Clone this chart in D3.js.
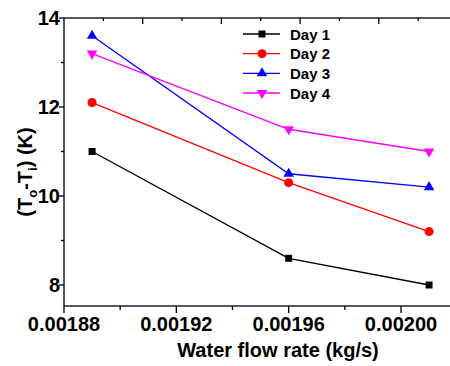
<!DOCTYPE html>
<html>
<head>
<meta charset="utf-8">
<script src="https://cdn.jsdelivr.net/npm/d3@7"></script>
<style>
  body { margin: 0; background: #fff; }
  svg { display: block; font-family: "Liberation Sans", Arial, sans-serif; font-weight: bold; }
</style>
</head>
<body>
<div id="chart"></div>
<script>
// the data
const flowRate = [0.00189, 0.00196, 0.00201];
const day1 = [11.0, 8.6, 8.0];
const day2 = [12.1, 10.3, 9.2];
const day3 = [13.6, 10.5, 10.2];
const day4 = [13.2, 11.5, 11.0];
const seriesNames = ["Day 1", "Day 2", "Day 3", "Day 4"];
const xTicks = [0.00188, 0.00192, 0.00196, 0.00200];
const yTicks = [8, 10, 12, 14];

const width = 450;
const height = 366;
const plotLeft = 64, plotTop = 18, plotBottom = 306, plotRight = 460;

const svg = d3.select('#chart')
  .append('svg')
    .attr('width', width)
    .attr('height', height);

// scales
const x = d3.scaleLinear().domain([0.00188, 0.00200]).range([plotLeft, 401]);
const y = d3.scaleLinear().domain([8, 14]).range([285, plotTop]);
// the top axis of the original has its own tick spacing
const xTop = d3.scaleLinear().domain([0, 10]).range([plotLeft, plotLeft + 393.5]);

const series = [
  { name: seriesNames[0], values: day1, color: '#000000', symbol: d3.symbolSquare, size: 49, rotate: 0 },
  { name: seriesNames[1], values: day2, color: '#ff0000', symbol: d3.symbolCircle, size: 64, rotate: 0 },
  { name: seriesNames[2], values: day3, color: '#0000ff', symbol: d3.symbolTriangle, size: 48, rotate: 0 },
  { name: seriesNames[3], values: day4, color: '#ff00ff', symbol: d3.symbolTriangle, size: 48, rotate: 180 }
];

// frame
svg.append('rect')
  .attr('x', plotLeft).attr('y', plotTop)
  .attr('width', plotRight - plotLeft).attr('height', plotBottom - plotTop)
  .attr('fill', 'none').attr('stroke', '#000').attr('stroke-width', 1.3);

// bottom ticks, major + minor
const xMinor = [0.00190, 0.00194, 0.00198];
svg.selectAll('.xmajor')
  .data(xTicks)
  .join('line')
    .attr('class', 'xmajor')
    .attr('x1', d => x(d)).attr('x2', d => x(d))
    .attr('y1', plotBottom).attr('y2', plotBottom + 7)
    .attr('stroke', '#000').attr('stroke-width', 1.3);
svg.selectAll('.xminor')
  .data(xMinor)
  .join('line')
    .attr('class', 'xminor')
    .attr('x1', d => x(d)).attr('x2', d => x(d))
    .attr('y1', plotBottom).attr('y2', plotBottom + 4)
    .attr('stroke', '#000').attr('stroke-width', 1.3);
svg.selectAll('.xlabel')
  .data(xTicks)
  .join('text')
    .attr('class', 'xlabel')
    .attr('x', d => x(d))
    .attr('y', 331)
    .attr('text-anchor', 'middle')
    .attr('font-size', 20)
    .text(d => d3.format('.5f')(d));

// top ticks (inside)
svg.selectAll('.ttick')
  .data(d3.range(1, 10))
  .join('line')
    .attr('class', 'ttick')
    .attr('x1', d => xTop(d)).attr('x2', d => xTop(d))
    .attr('y1', plotTop).attr('y2', d => plotTop + (d % 2 === 0 ? 6 : 3))
    .attr('stroke', '#000').attr('stroke-width', 1.3);

// left ticks
const yMinor = [9, 11, 13];
svg.selectAll('.ymajor')
  .data(yTicks)
  .join('line')
    .attr('class', 'ymajor')
    .attr('x1', plotLeft - 5).attr('x2', plotLeft)
    .attr('y1', d => y(d)).attr('y2', d => y(d))
    .attr('stroke', '#000').attr('stroke-width', 1.3);
svg.selectAll('.yminor')
  .data(yMinor)
  .join('line')
    .attr('class', 'yminor')
    .attr('x1', plotLeft - 3).attr('x2', plotLeft)
    .attr('y1', d => y(d)).attr('y2', d => y(d))
    .attr('stroke', '#000').attr('stroke-width', 1.3);
svg.selectAll('.ylabel')
  .data(yTicks)
  .join('text')
    .attr('class', 'ylabel')
    .attr('x', plotLeft - 4)
    .attr('y', d => y(d) + 7)
    .attr('text-anchor', 'end')
    .attr('font-size', 20)
    .text(d => d);

// axis titles
svg.append('text')
  .attr('x', 278).attr('y', 357)
  .attr('text-anchor', 'middle')
  .attr('font-size', 20)
  .text('Water flow rate (kg/s)');

const yTitle = svg.append('text')
  .attr('transform', 'translate(32,172) rotate(-90)')
  .attr('text-anchor', 'middle')
  .attr('font-size', 20);
yTitle.append('tspan').text('(T');
yTitle.append('tspan').attr('font-size', 13).attr('dy', 5).text('o');
yTitle.append('tspan').attr('dy', -5).text('-T');
yTitle.append('tspan').attr('font-size', 13).attr('dy', 5).text('i');
yTitle.append('tspan').attr('dy', -5).text(') (K)');

// lines and markers
const line = d3.line()
  .x((d, i) => x(flowRate[i]))
  .y(d => y(d));

series.forEach(s => {
  svg.append('path')
    .attr('d', line(s.values))
    .attr('fill', 'none')
    .attr('stroke', s.color)
    .attr('stroke-width', 1.3);
  svg.selectAll(null)
    .data(s.values)
    .join('path')
      .attr('d', d3.symbol().type(s.symbol).size(s.size))
      .attr('transform', (d, i) => `translate(${x(flowRate[i])},${y(d)}) rotate(${s.rotate})`)
      .attr('fill', s.color);
});

// legend
const legendY = d3.scaleLinear().domain([0, 3]).range([34, 93]);
const legend = svg.selectAll('.legend')
  .data(series)
  .join('g')
    .attr('class', 'legend')
    .attr('transform', (d, i) => `translate(243,${legendY(i)})`);
legend.append('line')
  .attr('x1', 0).attr('x2', 37)
  .attr('stroke', d => d.color).attr('stroke-width', 1.3);
legend.append('path')
  .attr('d', d => d3.symbol().type(d.symbol).size(d.size)())
  .attr('transform', d => `translate(19,0) rotate(${d.rotate})`)
  .attr('fill', d => d.color);
legend.append('text')
  .attr('x', 47).attr('y', 5.5)
  .attr('font-size', 15)
  .text(d => d.name);
</script>
</body>
</html>
